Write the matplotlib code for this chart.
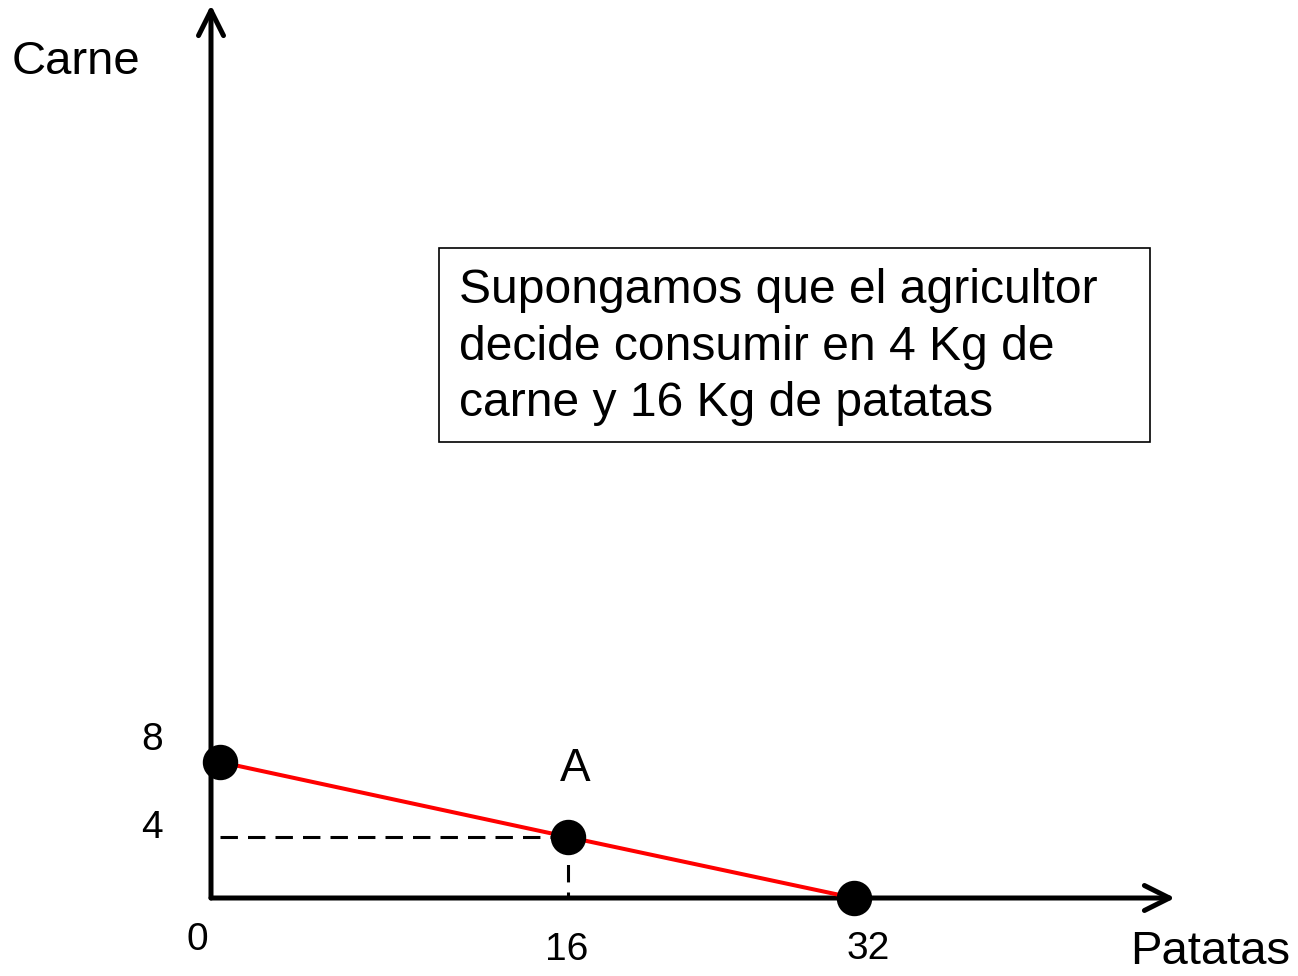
import numpy as np
import matplotlib
matplotlib.use("Agg")
import matplotlib.pyplot as plt
from matplotlib.patches import Rectangle

plt.rcParams["font.family"] = ["Liberation Sans", "DejaVu Sans"]

# production possibilities of the farmer
patatas = [0, 16, 32]
carne = [8, 4, 0]
punto_a = (16, 4)
x_ticks = [0, 16, 32]
y_ticks = [4, 8]
texto = "Supongamos que el agricultor\ndecide consumir en 4 Kg de\ncarne y 16 Kg de patatas"

W, H, DPI = 1298, 976, 100
fig = plt.figure(figsize=(W / DPI, H / DPI), dpi=DPI)

# axes area = the arrow axes of the drawing (pixels 211..1175, 5..898)
ax = fig.add_axes([211 / W, 78 / H, 964 / W, 893 / H])
ax.set_axis_off()

# schematic (not proportional) scales, as in the original slide
xd, xp = [-0.41, 0, 16, 32, 49.98], [0, 9, 357, 643, 964]
yd, yp = [0, 4, 8, 48.37], [0, 61, 136, 893]
ax.set_xscale("function", functions=(lambda v: np.interp(v, xd, xp),
                                     lambda p: np.interp(p, xp, xd)))
ax.set_yscale("function", functions=(lambda v: np.interp(v, yd, yp),
                                     lambda p: np.interp(p, yp, yd)))
ax.set_xlim(xd[0], xd[-1])
ax.set_ylim(yd[0], yd[-1])

arrow = dict(arrowstyle="->,head_length=0.6,head_width=0.3", lw=3.6,
             color="black", shrinkA=0, shrinkB=0, mutation_scale=30)
ax.annotate("", xy=(xd[-1], 0), xytext=(xd[0], 0), arrowprops=arrow,
            annotation_clip=False)
ax.annotate("", xy=(xd[0], yd[-1]), xytext=(xd[0], 0), arrowprops=arrow,
            annotation_clip=False)

# dashed guides to A
ax.plot([0, punto_a[0]], [punto_a[1], punto_a[1]], color="black", lw=2.2,
        dashes=(5.7, 3.3), clip_on=False)
ax.plot([punto_a[0], punto_a[0]], [punto_a[1], 0], color="black", lw=2.2,
        dashes=(5.7, 3.3), clip_on=False)

ax.plot(patatas, carne, color="#ff0000", lw=2.9, clip_on=False, zorder=3)
ax.plot(patatas, carne, "o", color="black", ms=24.5, clip_on=False, zorder=4)

# tick labels
x_off = [(-23, -42), (-1, -52), (14, -51)]
for v, off in zip(x_ticks, x_off):
    ax.annotate(str(v), (v, 0), xytext=off, textcoords="offset pixels",
                ha="center", va="center", fontsize=28, annotation_clip=False)
y_off = [(-68, 9), (-68, 22)]
for v, off in zip(y_ticks, y_off):
    ax.annotate(str(v), (0, v), xytext=off, textcoords="offset pixels",
                ha="center", va="center", fontsize=28, annotation_clip=False)

ax.annotate("A", punto_a, xytext=(7, 68), textcoords="offset pixels",
            ha="center", va="center", fontsize=33, annotation_clip=False)
ax.annotate("Carne", (xd[0], yd[-1]), xytext=(-135, -57), textcoords="offset pixels",
            ha="center", va="center", fontsize=34, annotation_clip=False)
ax.annotate("Patatas", (xd[-1], 0), xytext=(35, -54), textcoords="offset pixels",
            ha="center", va="center", fontsize=34, annotation_clip=False)

# note box
fig.patches.append(Rectangle((439 / W, 1 - 442 / H), 711 / W, 194 / H,
                             transform=fig.transFigure, fill=False,
                             edgecolor="black", lw=1.2))
fig.text(459 / W, 1 - 347 / H, texto, ha="left", va="center", fontsize=34.6,
         linespacing=1.32)

fig.savefig("out.png", dpi=DPI)
